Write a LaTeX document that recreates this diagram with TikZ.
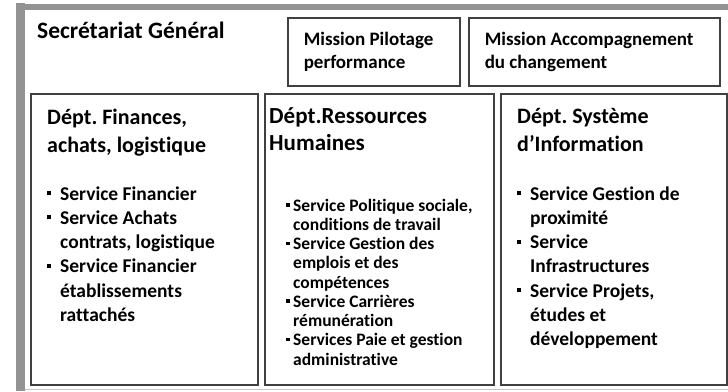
\documentclass[tikz,border=0pt]{standalone}
\usepackage{fontspec}
\setmainfont{Carlito}[Ligatures=NoCommon]
\usetikzlibrary{positioning}

% petits outils pour les listes
\newcommand{\tete}{\rule{0pt}{18pt}}
\newcommand{\serre}{\spaceskip=0pt\xspaceskip=0pt\relax}
\newcommand{\puce}[1]{\makebox[#1][l]{\rule[5pt]{4pt}{4pt}}}
\newcommand{\petitepuce}[1]{\makebox[#1][l]{\rule[4.5pt]{3.5pt}{3.5pt}}}

\tikzset{
  cadre/.style={draw=gray!85},
  boite/.style={draw=black!75, line width=1.5pt, inner sep=0pt},
  mission/.style={boite, anchor=north west, align=left, inner xsep=16pt,
    minimum height=68pt, font=\fontsize{19}{23}\selectfont\bfseries},
  dept/.style={boite, anchor=north west, minimum height=291pt},
  titre/.style={anchor=north west, yshift=18pt, inner sep=0pt, align=left,
    font=\fontsize{22}{28}\selectfont\bfseries},
  liste/.style={anchor=north west, yshift=18pt, inner sep=0pt, align=left,
    font=\fontsize{19.5}{24.2}\selectfont\bfseries},
  petiteliste/.style={liste, font=\fontsize{17.5}{19.25}\selectfont\bfseries},
}

\begin{document}
\frenchspacing
\begin{tikzpicture}[x=1pt,y=1pt]
  \useasboundingbox (0,0) rectangle (728,-391);
  \fill[white] (0,0) rectangle (728,-391);

  % cadre gris
  \draw[cadre, line width=9pt] (20.5,-391) -- (20.5,-2.5);
  \draw[cadre, line width=6pt] (16,-7) -- (728,-7);
  \draw[cadre, gray!45, line width=1.5pt] (25,-389.5) -- (728,-389.5);

  \node[anchor=base west, inner sep=0pt, font=\fontsize{23.5}{28}\selectfont\bfseries]
    (sg) at (37,-38) {Secrétariat Général};

  % missions
  \node[mission, text width=140pt] (pilot) at (287,-17)
    {\serre Mission Pilotage\\performance};
  \node[mission, text width=219pt] (accomp) at (468,-17)
    {\serre Mission Accompagnement\\du changement};

  % departements
  \node[dept, minimum width=227pt] (fin) at (30,-93) {};
  \node[dept, minimum width=229pt] (rh) at (264,-93) {};
  \node[dept, minimum width=226pt] (si) at (500,-93) {};

  \node[titre] (finT) at (47,-124) {\tete Dépt. Finances,\\achats, logistique};
  \node[titre, font=\fontsize{23}{27}\selectfont\bfseries] (rhT) at (269,-123)
    {\tete Dépt.Ressources\\Humaines};
  \node[titre] (siT) at (517,-123) {\tete Dépt. Système\\d’Information};

  \node[liste] (finL) at (47,-200) {\tete\puce{13pt}Service Financier\\
    \puce{13pt}Service Achats\\
    \hspace*{13pt}contrats, logistique\\
    \puce{13pt}Service Financier\\
    \hspace*{13pt}établissements\\
    \hspace*{13pt}rattachés};

  \node[petiteliste] (rhL) at (286,-211) {\tete\petitepuce{7pt}Service Politique sociale,\\
    \hspace*{7pt}conditions de travail\\
    \petitepuce{7pt}Service Gestion des\\
    \hspace*{7pt}emplois et des\\
    \hspace*{7pt}compétences\\
    \petitepuce{7pt}Service Carrières\\
    \hspace*{7pt}rémunération\\
    \petitepuce{7pt}Services Paie et gestion\\
    \hspace*{7pt}administrative};

  \node[liste] (siL) at (517,-200) {\tete\puce{13pt}Service Gestion de\\
    \hspace*{13pt}proximité\\
    \puce{13pt}Service\\
    \hspace*{13pt}Infrastructures\\
    \puce{13pt}Service Projets,\\
    \hspace*{13pt}études et\\
    \hspace*{13pt}développement};
\end{tikzpicture}
\end{document}
